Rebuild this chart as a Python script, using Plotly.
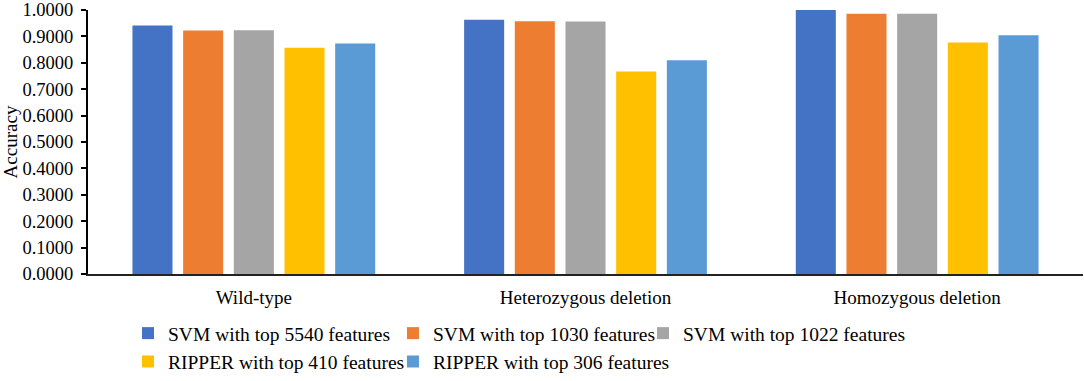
import plotly.graph_objects as go

categories = ["Wild-type", "Heterozygous deletion", "Homozygous deletion"]
series_names = [
    "SVM with top 5540 features",
    "SVM with top 1030 features",
    "SVM with top 1022 features",
    "RIPPER with top 410 features",
    "RIPPER with top 306 features",
]
svm_5540 = [0.941, 0.963, 1.000]
svm_1030 = [0.922, 0.957, 0.986]
svm_1022 = [0.923, 0.956, 0.986]
ripper_410 = [0.857, 0.767, 0.877]
ripper_306 = [0.873, 0.810, 0.904]
colors = ["#4472C4", "#ED7D31", "#A5A5A5", "#FFC000", "#5B9BD5"]

values = [svm_5540, svm_1030, svm_1022, ripper_410, ripper_306]
# legend column for each series (columns laid out like the reference)
legend_ids = ["legend", "legend2", "legend3", "legend", "legend2"]

font = "Times New Roman, Liberation Serif, serif"
fs_ytick = 18.5
fs_xtick = 19
fs_leg = 19.5

fig = go.Figure()
for name, vals, c, lg in zip(series_names, values, colors, legend_ids):
    fig.add_trace(go.Bar(x=categories, y=vals, name=name, marker_color=c,
                         marker_line_width=0, legend=lg))

leg_common = dict(orientation="v", xanchor="left", yanchor="top",
                  y=-0.147, itemwidth=30, tracegroupgap=0, itemclick=False,
                  bgcolor="rgba(0,0,0,0)",
                  font=dict(family=font, size=fs_leg, color="black"))

fig.update_layout(
    width=1084, height=381,
    margin=dict(l=88, r=1, t=10, b=106),
    paper_bgcolor="white", plot_bgcolor="white",
    barmode="group", bargap=0.236, bargroupgap=0.21,
    font=dict(family=font, size=fs_xtick, color="black"),
    showlegend=True,
    legend=dict(x=0.0402, **leg_common),
    legend2=dict(x=0.3065, **leg_common),
    legend3=dict(x=0.5578, **leg_common),
)
fig.update_xaxes(showline=True, linecolor="#222", linewidth=2,
                 ticks="outside", ticklen=5, tickcolor="rgba(0,0,0,0)",
                 showgrid=False, tickfont=dict(size=fs_xtick))
fig.update_yaxes(range=[0, 1.0], dtick=0.1, tickformat=".4f", showline=True,
                 linecolor="black", linewidth=2, ticks="outside", ticklen=5,
                 tickwidth=2, tickcolor="black", showgrid=False, zeroline=False,
                 ticklabelstandoff=4, ticklabeloverflow="allow",
                 title=dict(text="Accuracy", font=dict(size=fs_xtick), standoff=4),
                 tickfont=dict(size=fs_ytick))

fig.write_html("out.html", post_script="document.body.style.margin='0';",
               config={"displayModeBar": False})
